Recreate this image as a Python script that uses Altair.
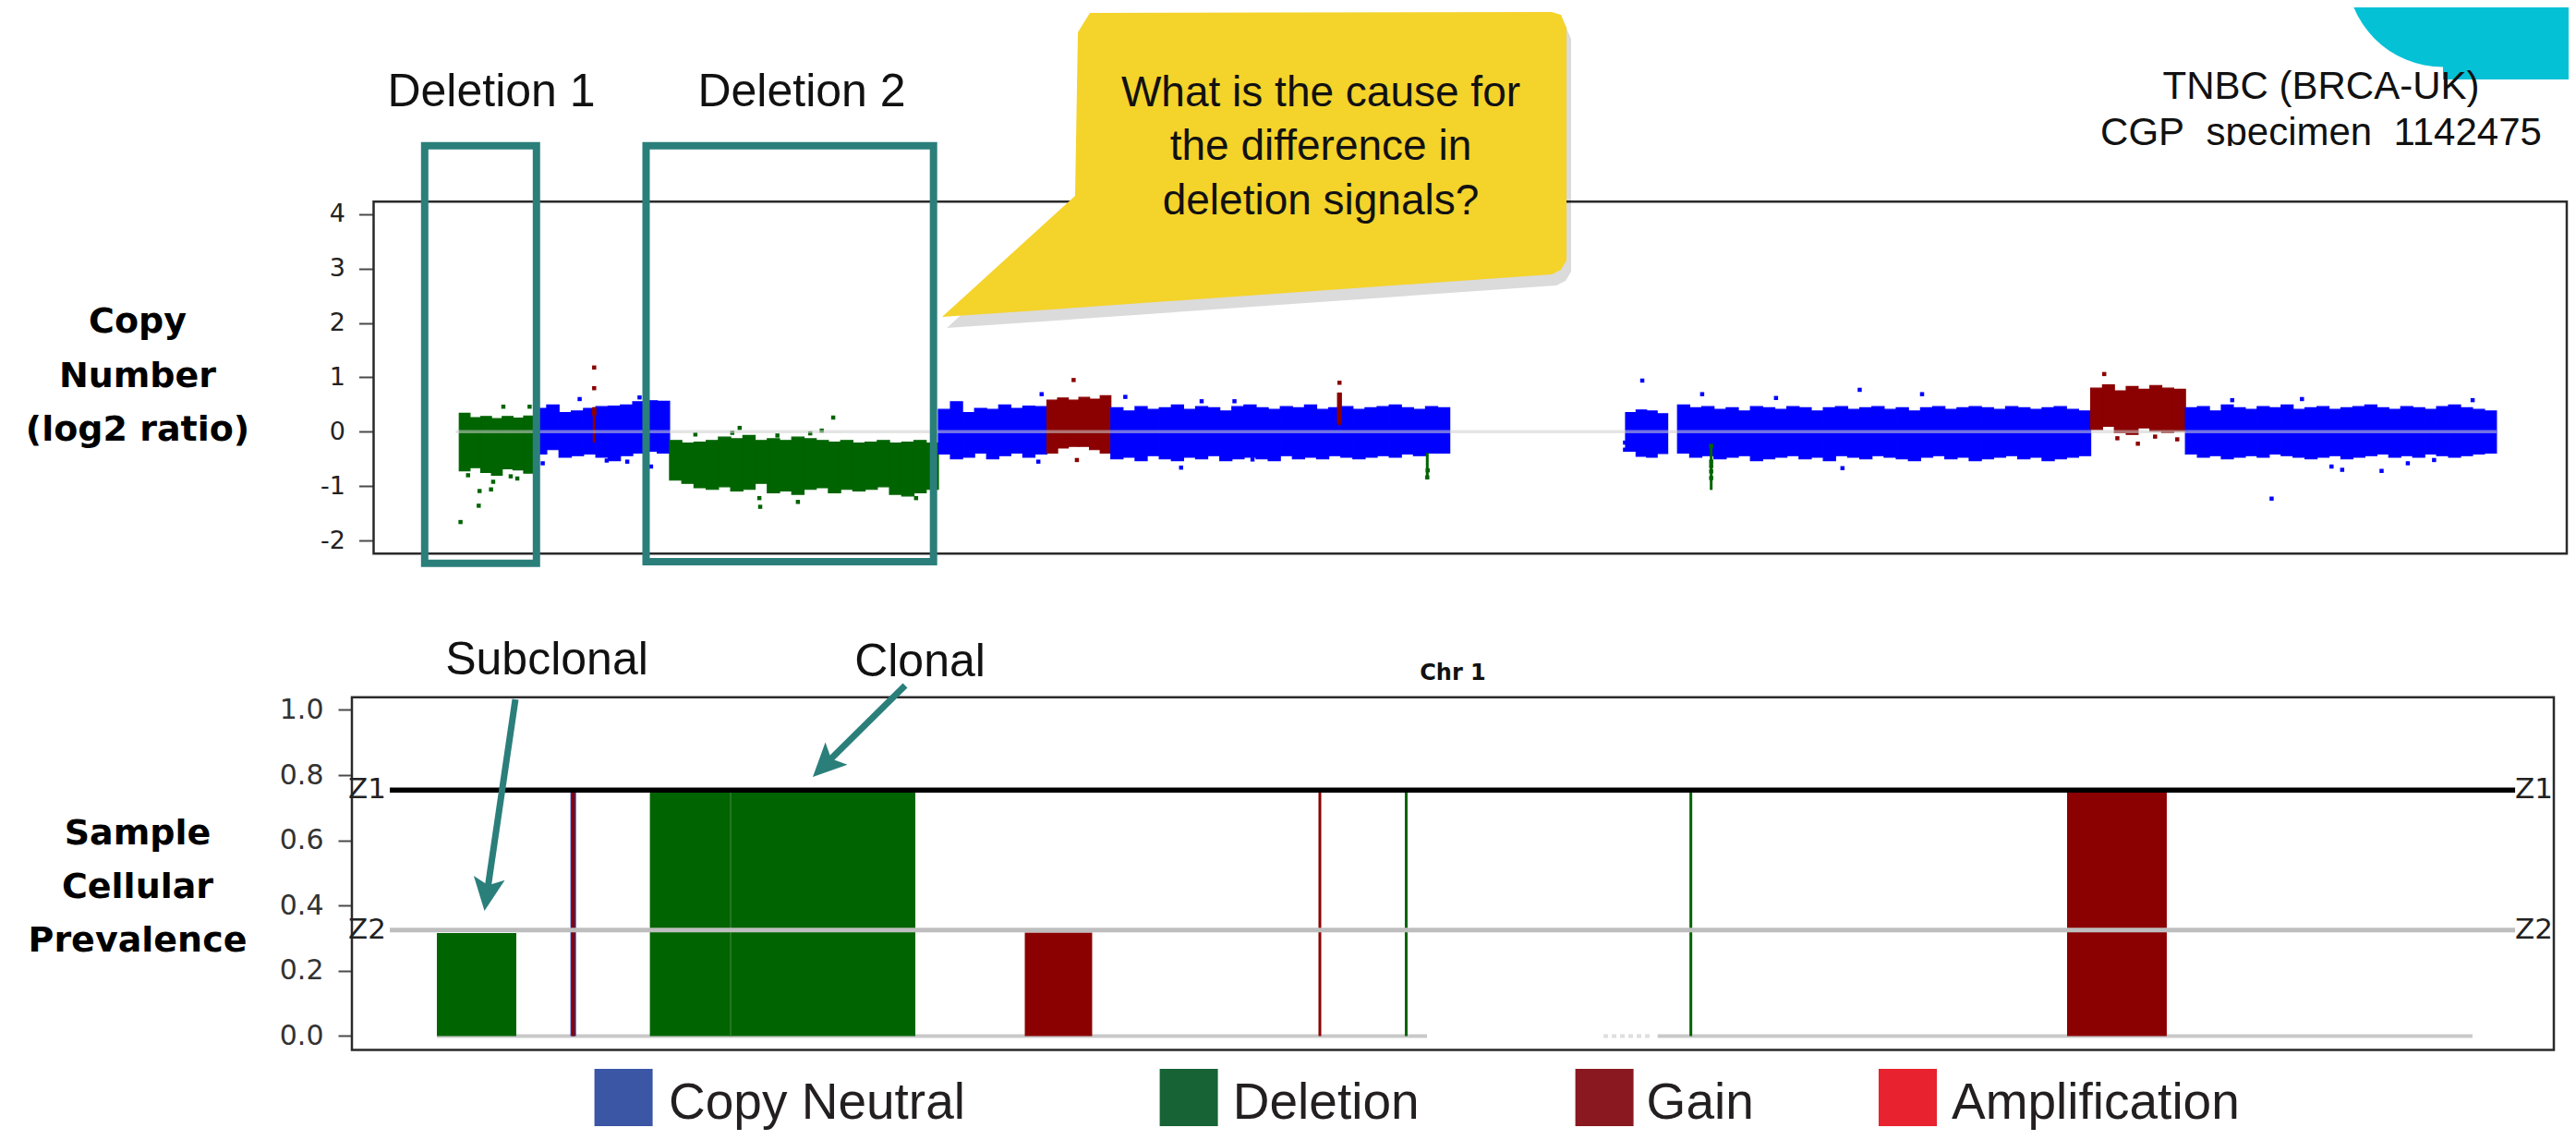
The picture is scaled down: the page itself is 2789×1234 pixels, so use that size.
import altair as alt
import pandas as pd

# ---------------- data ----------------
STATES = ["Copy Neutral", "Deletion", "Gain", "Amplification"]
POINT_COLORS = ["#0000ff", "#006400", "#8b0000", "#ee2222"]
LEGEND_COLORS = ["#3a56a5", "#176335", "#8a1820", "#e8222e"]

# Top panel: copy-number segments on chr1 (Mb); envelope of the probe cloud (log2 ratio)
SEG_START = [0.93, 10.09, 26.56, 59.32, 72.55, 80.34, 143.07, 149.4, 199.75, 211.3]
SEG_END = [10.09, 26.56, 59.32, 72.55, 80.34, 121.64, 148.2, 199.75, 211.3, 249.2]
SEG_STATE = ["Deletion", "Copy Neutral", "Deletion", "Copy Neutral", "Gain",
             "Copy Neutral", "Copy Neutral", "Copy Neutral", "Gain", "Copy Neutral"]
SEG_TOP = [
    [0.34, 0.26, 0.28, 0.24, 0.28, 0.25, 0.29],
    [0.43, 0.49, 0.35, 0.38, 0.43, 0.46, 0.47, 0.49, 0.55, 0.57, 0.56],
    [-0.16, -0.21, -0.19, -0.16, -0.10, -0.13, -0.07, -0.16, -0.13, -0.16, -0.10,
     -0.13, -0.16, -0.19, -0.16, -0.21, -0.19, -0.16, -0.21, -0.19, -0.16, -0.21],
    [0.41, 0.55, 0.35, 0.43, 0.41, 0.49, 0.43, 0.47, 0.46],
    [0.58, 0.62, 0.58, 0.63, 0.60, 0.66],
    [0.44, 0.38, 0.46, 0.41, 0.44, 0.49, 0.41, 0.46, 0.44, 0.38, 0.46, 0.49, 0.44, 0.41,
     0.46, 0.44, 0.49, 0.41, 0.44, 0.46, 0.41, 0.44, 0.46, 0.49, 0.44, 0.41, 0.46, 0.44],
    [0.35, 0.40, 0.38, 0.33],
    [0.49, 0.44, 0.46, 0.41, 0.44, 0.38, 0.46, 0.44, 0.41, 0.46, 0.44, 0.38, 0.44, 0.46,
     0.41, 0.44, 0.46, 0.41, 0.44, 0.38, 0.44, 0.46, 0.41, 0.44, 0.46, 0.44, 0.41, 0.46,
     0.44, 0.41, 0.44, 0.46, 0.41, 0.38],
    [0.80, 0.86, 0.75, 0.83, 0.78, 0.85, 0.80, 0.78],
    [0.44, 0.46, 0.38, 0.49, 0.44, 0.41, 0.46, 0.44, 0.49, 0.41, 0.44, 0.46, 0.41,
     0.44, 0.46, 0.49, 0.44, 0.41, 0.46, 0.44, 0.41, 0.46, 0.49, 0.44, 0.41, 0.38],
]
SEG_BOTTOM = [
    [-0.72, -0.66, -0.75, -0.80, -0.68, -0.70, -0.76],
    [-0.41, -0.33, -0.47, -0.44, -0.41, -0.47, -0.53, -0.44, -0.39, -0.36, -0.39],
    [-0.89, -0.95, -1.03, -1.06, -1.01, -1.09, -1.06, -0.95, -1.12, -1.09, -1.15,
     -1.06, -1.03, -1.12, -1.06, -1.09, -1.06, -1.01, -1.15, -1.18, -1.12, -1.06],
    [-0.41, -0.50, -0.47, -0.39, -0.50, -0.44, -0.39, -0.47, -0.41],
    [-0.39, -0.30, -0.27, -0.27, -0.33, -0.39],
    [-0.50, -0.47, -0.53, -0.44, -0.50, -0.53, -0.47, -0.50, -0.44, -0.53, -0.50, -0.47,
     -0.50, -0.53, -0.44, -0.50, -0.47, -0.50, -0.44, -0.47, -0.50, -0.47, -0.44, -0.47,
     -0.41, -0.44, -0.39, -0.39],
    [-0.36, -0.45, -0.47, -0.40],
    [-0.39, -0.47, -0.44, -0.50, -0.47, -0.44, -0.53, -0.50, -0.47, -0.44, -0.50, -0.47,
     -0.53, -0.44, -0.47, -0.50, -0.44, -0.47, -0.50, -0.53, -0.47, -0.44, -0.50, -0.47,
     -0.53, -0.50, -0.47, -0.44, -0.50, -0.47, -0.53, -0.50, -0.47, -0.44],
    [0.04, 0.10, -0.02, -0.05, 0.07, 0.01, -0.02, 0.01],
    [-0.41, -0.47, -0.44, -0.50, -0.47, -0.44, -0.47, -0.41, -0.44, -0.47, -0.50, -0.47,
     -0.44, -0.50, -0.47, -0.44, -0.41, -0.47, -0.44, -0.47, -0.41, -0.44, -0.47, -0.44,
     -0.41, -0.39],
]

# narrow focal events in the top panel
SPIKE_X = [17.37, 108.2, 118.9, 153.5]
SPIKE_LO = [-0.20, 0.12, -0.84, -1.07]
SPIKE_HI = [0.45, 0.72, -0.39, -0.24]
SPIKE_STATE = ["Gain", "Gain", "Deletion", "Deletion"]
BLOB_X0 = [17.1, 107.9]
BLOB_X1 = [17.65, 108.5]
BLOB_LO = [0.30, 0.15]
BLOB_HI = [0.45, 0.72]
BLOB_STATE = ["Gain", "Gain"]

# isolated probes
OUT_X = [1.08, 3.3, 3.4, 4.8, 5.06, 8.0, 6.3, 9.5, 2.0, 7.2,
         11.1, 24.3, 15.6, 18.9, 21.4, 22.9,
         17.37, 17.37,
         29.7, 34.2, 35.1, 39.7, 43.7, 45.1, 46.5, 37.5, 37.6, 42.2, 56.6,
         71.5, 71.9, 75.8, 76.2, 88.9, 82.1, 91.4, 95.4, 97.6, 108.2,
         118.9, 118.95,
         145.1, 152.4, 161.4, 169.5, 171.6, 179.2, 143.0, 143.0,
         153.5, 153.5, 153.5, 153.5, 153.5,
         201.4, 205.5, 210.3, 203.0, 207.6,
         221.8, 229.1, 230.4, 235.2, 238.4, 241.6, 246.3, 217.0, 225.5]
OUT_Y = [-1.66, -1.36, -1.09, -1.06, -0.92, -0.86, 0.46, 0.46, -0.80, -0.82,
         -0.58, -0.64, 0.60, -0.53, -0.55, 0.63,
         1.18, 0.80,
         -0.05, -0.02, 0.07, -0.07, -0.03, 0.02, 0.26, -1.22, -1.38, -1.29, -1.22,
         -0.55, 0.69, 0.95, -0.52, -0.66, 0.64, 0.56, 0.56, -0.51, 0.90,
         -0.84, -0.71,
         0.94, 0.69, 0.62, -0.67, 0.77, 0.69, -0.20, -0.33,
         -0.26, -0.55, -0.63, -0.73, -0.85,
         1.06, -0.22, -0.14, -0.12, -0.09,
         -1.23, -0.64, -0.70, -0.72, -0.58, -0.52, 0.58, 0.58, 0.60]
OUT_STATE = (["Deletion"] * 10 + ["Copy Neutral"] * 6 + ["Gain"] * 2 + ["Deletion"] * 11
             + ["Copy Neutral", "Copy Neutral", "Gain", "Gain", "Copy Neutral", "Copy Neutral",
                "Copy Neutral", "Copy Neutral", "Copy Neutral", "Gain"]
             + ["Deletion"] * 2 + ["Copy Neutral"] * 8 + ["Deletion"] * 5 + ["Gain"] * 5
             + ["Copy Neutral"] * 9)
ZERO_LINE = [0.5, 249.2]

# Bottom panel: sample cellular prevalence per event
BAR_X0 = [0.73, 26.69, 36.53, 72.38, 199.4]
BAR_X1 = [10.41, 36.53, 59.04, 80.59, 211.55]
BAR_PREV = [0.316, 0.75, 0.75, 0.317, 0.75]
BAR_STATE = ["Deletion", "Deletion", "Deletion", "Gain", "Gain"]
LINE_X = [17.35, 108.34, 118.86, 153.55]
LINE_PREV = [0.75, 0.75, 0.75, 0.75]
LINE_STATE = ["Gain", "Gain", "Deletion", "Deletion"]
BASE_X0 = [0.73, 149.5]
BASE_X1 = [121.4, 248.8]
SPARSE_X0 = [142.9]
SPARSE_X1 = [148.6]
Z_NAMES = ["Z1", "Z2"]
Z_VALUES = [0.754, 0.325]
Z_EXTENT = [-5.0, 254.0]

TOP_TICKS = [-2, -1, 0, 1, 2, 3, 4]
BOT_TICKS = [0.0, 0.2, 0.4, 0.6, 0.8, 1.0]

# ---------------- layout (pixels) ----------------
# The view origin sits just outside the canvas (negative padding), so the
# view-cell outline falls outside the visible area.
OX, OY = 5, 5              # page position of the view origin
PAD = -3                   # canvas starts at page (8, 8)
W, H = 2773 - 2 * PAD, 1218 - 2 * PAD
TEAL = "#2b7f7b"
FONT = "Liberation Sans"


def px(v):
    return v - OX


def py(v):
    return v - OY


TOP_XD, TOP_XR = [-9.511, 257.77], [px(404.5), px(2779)]
TOP_YD, TOP_YR = [-2.241, 4.228], [py(599.3), py(218.3)]
BOT_XD, BOT_XR = [-9.624, 258.72], [px(381), px(2765)]
BOT_YD, BOT_YR = [-0.043, 1.039], [py(1136.6), py(754.7)]


def sc(domain, rng):
    return alt.Scale(domain=domain, range=rng, zero=False, nice=False)


def tx(f, **kw):
    return alt.X(f, type="quantitative", scale=sc(TOP_XD, TOP_XR), **({"axis": None} | kw))


def ty(f, **kw):
    return alt.Y(f, type="quantitative", scale=sc(TOP_YD, TOP_YR), **({"axis": None} | kw))


def bx(f, **kw):
    return alt.X(f, type="quantitative", scale=sc(BOT_XD, BOT_XR), **({"axis": None} | kw))


def by(f, **kw):
    return alt.Y(f, type="quantitative", scale=sc(BOT_YD, BOT_YR), **({"axis": None} | kw))


STATE_SCALE = alt.Scale(domain=STATES, range=POINT_COLORS)


def col(f="state"):
    return alt.Color(f + ":N", scale=STATE_SCALE, legend=None)


def stk(f="state"):
    return alt.Stroke(f + ":N", scale=STATE_SCALE, legend=None)


ONE = pd.DataFrame({"k": [0]})

# ---------------- build tables ----------------
band_rows = []
for s, e, st, tops, bots in zip(SEG_START, SEG_END, SEG_STATE, SEG_TOP, SEG_BOTTOM):
    n = min(len(tops), len(bots))
    step = (e - s) / n
    for i in range(n):
        band_rows.append({"x0": s + i * step, "x1": s + (i + 1) * step,
                          "top": tops[i], "bot": bots[i], "state": st})
bands = pd.DataFrame(band_rows)
spikes = pd.DataFrame({"x": SPIKE_X, "lo": SPIKE_LO, "hi": SPIKE_HI, "state": SPIKE_STATE})
blobs = pd.DataFrame({"x0": BLOB_X0, "x1": BLOB_X1, "lo": BLOB_LO, "hi": BLOB_HI, "state": BLOB_STATE})
outs = pd.DataFrame({"x": OUT_X, "y": OUT_Y, "state": OUT_STATE})
zero = pd.DataFrame({"x0": [ZERO_LINE[0]], "x1": [ZERO_LINE[1]], "y": [0.0]})
top_frame = pd.DataFrame({"x0": [TOP_XD[0]], "x1": [TOP_XD[1]], "y0": [TOP_YD[0]], "y1": [TOP_YD[1]]})
bot_frame = pd.DataFrame({"x0": [BOT_XD[0]], "x1": [BOT_XD[1]], "y0": [BOT_YD[0]], "y1": [BOT_YD[1]]})
bars = pd.DataFrame({"x0": BAR_X0, "x1": BAR_X1, "prev": BAR_PREV, "state": BAR_STATE, "y0": 0.0})
lines = pd.DataFrame({"x": LINE_X, "prev": LINE_PREV, "state": LINE_STATE, "y0": 0.0})
base = pd.DataFrame({"x0": BASE_X0, "x1": BASE_X1, "y": 0.0})
sparse = pd.DataFrame({"x0": SPARSE_X0, "x1": SPARSE_X1, "y": 0.0})
zl = pd.DataFrame({"name": Z_NAMES, "z": Z_VALUES, "x0": Z_EXTENT[0], "x1": Z_EXTENT[1]})

layers = []

# ---------------- top panel ----------------
TOP_AXIS = alt.Axis(orient="left", values=TOP_TICKS, tickSize=16, tickWidth=2, tickColor="#4a4a4a",
                    domain=False, grid=False, labelFont="DejaVu Sans", labelFontSize=27,
                    labelColor="#222222", labelPadding=15, offset=-TOP_XR[0], title=None,
                    labelExpr="datum.value", labelOverlap=False, labelFlush=False)
layers.append(alt.Chart(top_frame).mark_rect(fillOpacity=0, stroke="#2a2a2a", strokeWidth=2.5).encode(
    x=tx("x0"), x2="x1", y=ty("y0", axis=TOP_AXIS), y2="y1"))
layers.append(alt.Chart(bands).mark_rect(strokeWidth=1.2).encode(
    x=tx("x0"), x2="x1", y=ty("top"), y2="bot", color=col(), stroke=stk()))
layers.append(alt.Chart(blobs).mark_rect().encode(
    x=tx("x0"), x2="x1", y=ty("hi"), y2="lo", color=col()))
layers.append(alt.Chart(spikes).mark_rule(strokeWidth=3).encode(
    x=tx("x"), y=ty("lo"), y2="hi", color=col()))
layers.append(alt.Chart(outs).mark_square(size=20, opacity=1).encode(
    x=tx("x"), y=ty("y"), color=col()))
layers.append(alt.Chart(zero).mark_rule(strokeWidth=3.5, color="#cfcfcf", opacity=0.55).encode(
    x=tx("x0"), x2="x1", y=ty("y")))

# ---------------- bottom panel ----------------
BOT_AXIS = alt.Axis(orient="left", values=BOT_TICKS, tickSize=15, tickWidth=2, tickColor="#4a4a4a",
                    domain=False, grid=False, labelFont="DejaVu Sans", labelFontSize=30,
                    labelColor="#333333", labelPadding=16, offset=-BOT_XR[0], title=None,
                    labelExpr="format(datum.value, '.1f')", labelOverlap=False, labelFlush=False)
layers.append(alt.Chart(bot_frame).mark_rect(fillOpacity=0, stroke="#2a2a2a", strokeWidth=2.5).encode(
    x=bx("x0"), x2="x1", y=by("y0", axis=BOT_AXIS), y2="y1"))
layers.append(alt.Chart(base).mark_rule(strokeWidth=4, color="#c9c9c9").encode(
    x=bx("x0"), x2="x1", y=by("y")))
layers.append(alt.Chart(sparse).mark_rule(strokeWidth=4, color="#c9c9c9", strokeDash=[5, 4],
                                          opacity=0.6).encode(
    x=bx("x0"), x2="x1", y=by("y")))
layers.append(alt.Chart(bars).mark_rect().encode(
    x=bx("x0"), x2="x1", y=by("prev"), y2="y0", color=col()))
layers.append(alt.Chart(bars.iloc[[2]]).mark_rule(strokeWidth=1.5, color="#2f7f2f").encode(
    x=bx("x0"), y=by("prev"), y2="y0"))
layers.append(alt.Chart(lines.iloc[[0]]).mark_rule(strokeWidth=6, color="#2b2f8f").encode(
    x=bx("x"), y=by("prev"), y2="y0"))
layers.append(alt.Chart(lines).mark_rule(strokeWidth=3).encode(
    x=bx("x"), y=by("prev"), y2="y0", color=col()))
layers.append(alt.Chart(zl.iloc[[1]]).mark_rule(strokeWidth=5, color="#bebebe").encode(
    x=bx("x0"), x2="x1", y=by("z")))
layers.append(alt.Chart(zl.iloc[[0]]).mark_rule(strokeWidth=5.5, color="#000000").encode(
    x=bx("x0"), x2="x1", y=by("z")))
layers.append(alt.Chart(zl).mark_text(align="right", baseline="middle", font="DejaVu Sans",
                                      fontSize=31, color="#222222").encode(
    x=alt.value(px(418)), y=by("z"), text="name:N"))
layers.append(alt.Chart(zl).mark_text(align="left", baseline="middle", font="DejaVu Sans",
                                      fontSize=31, color="#222222").encode(
    x=alt.value(px(2723)), y=by("z"), text="name:N"))
layers.append(alt.Chart(ONE).mark_text(text="Chr 1", align="center", baseline="alphabetic",
                                       font="DejaVu Sans", fontWeight="bold", fontSize=24,
                                       color="#111111").encode(
    x=alt.value(px(1573)), y=alt.value(py(735.5))))

# ---------------- annotations ----------------
def box(x0, x1, y0, y1):
    return alt.Chart(ONE).mark_rect(fillOpacity=0, stroke=TEAL, strokeWidth=8).encode(
        x=alt.value(px(x0)), x2=alt.value(px(x1)), y=alt.value(py(y0)), y2=alt.value(py(y1)))


layers.append(box(459.8, 580.8, 157.7, 609.7))
layers.append(box(699.5, 1010.7, 157.7, 608.0))


def text(t, x, y, size, align="center", weight="normal", font=FONT, color="#111111", lh=None):
    kw = dict(text=t, align=align, baseline="alphabetic", font=font, fontSize=size,
              fontWeight=weight, color=color)
    if lh is not None:
        kw["lineHeight"] = lh
    return alt.Chart(ONE).mark_text(**kw).encode(x=alt.value(px(x)), y=alt.value(py(y)))


layers.append(text("Deletion 1", 532, 114.7, 50))
layers.append(text("Deletion 2", 868, 114.7, 50))

# callout bubble (page pixel outline)
CALL_X = [1020, 1153, 1164, 1167, 1180, 1680, 1690, 1696]
CALL_TOP = [343, 222, 212, 35, 14, 13, 16, 30]
CALL_BOT = [343, 334, 333, 333, 332, 297, 292, 282]
shadow = pd.DataFrame({"x": [px(v + 5) for v in CALL_X], "y": [py(v + 12) for v in CALL_TOP],
                       "y2": [py(v + 12) for v in CALL_BOT]})
bubble = pd.DataFrame({"x": [px(v) for v in CALL_X], "y": [py(v) for v in CALL_TOP],
                       "y2": [py(v) for v in CALL_BOT]})
layers.append(alt.Chart(shadow).mark_area(color="#000000", opacity=0.14, orient="vertical").encode(
    x=alt.X("x:Q", scale=None, axis=None), y=alt.Y("y:Q", scale=None, axis=None), y2="y2"))
layers.append(alt.Chart(bubble).mark_area(color="#f4d32b", opacity=1, orient="vertical").encode(
    x=alt.X("x:Q", scale=None, axis=None), y=alt.Y("y:Q", scale=None, axis=None), y2="y2"))
layers.append(text(["What is the cause for", "the difference in", "deletion signals?"],
                   1430, 115, 46, lh=58.3))

# cyan corner shape
layers.append(alt.Chart(ONE).mark_point(shape="circle", filled=True, size=43744, color="#04c1d6",
                                        opacity=1).encode(
    x=alt.value(px(2645)), y=alt.value(py(-32))))
layers.append(alt.Chart(ONE).mark_rect(color="#04c1d6").encode(
    x=alt.value(px(2645)), x2=alt.value(W), y=alt.value(0), y2=alt.value(py(86))))

layers.append(text("TNBC (BRCA-UK)", 2513, 106.7, 42))
layers.append(text("CGP\u00a0 specimen\u00a0 1142475", 2513, 156.7, 42))
layers.append(alt.Chart(ONE).mark_rect(color="white").encode(
    x=alt.value(px(2250)), x2=alt.value(px(2776)), y=alt.value(py(158)), y2=alt.value(py(205))))

# panel labels
layers.append(text(["Copy", "Number", "(log2 ratio)"], 149, 360, 38, weight="bold",
                   font="DejaVu Sans", color="#000000", lh=58.5))
layers.append(text(["Sample", "Cellular", "Prevalence"], 149, 913.8, 38, weight="bold",
                   font="DejaVu Sans", color="#000000", lh=58))

# arrows
layers.append(text("Subclonal", 592, 729.5, 50))
layers.append(text("Clonal", 996, 731.6, 50))
ARROW = "M0,-1L0.85,0.8L0,0.4L-0.85,0.8Z"
for (x0, y0, x1, y1, hx, hy, ang) in [(558, 757, 528, 962, 527.4, 966.2, 188.3),
                                       (980, 742, 897, 824, 894.2, 826.9, 225.3)]:
    layers.append(alt.Chart(ONE).mark_rule(color=TEAL, strokeWidth=7).encode(
        x=alt.value(px(x0)), y=alt.value(py(y0)), x2=alt.value(px(x1)), y2=alt.value(py(y1))))
    layers.append(alt.Chart(ONE).mark_point(shape=ARROW, filled=True, size=1600, color=TEAL,
                                            opacity=1, angle=ang).encode(
        x=alt.value(px(hx)), y=alt.value(py(hy))))

# legend
LEG_SQ_X = [643.6, 1255.6, 1705.6, 2034]
LEG_TX_X = [724, 1334.8, 1782.6, 2113]
for lab, c, sx, tx_ in zip(STATES, LEGEND_COLORS, LEG_SQ_X, LEG_TX_X):
    layers.append(alt.Chart(ONE).mark_rect(color=c).encode(
        x=alt.value(px(sx)), x2=alt.value(px(sx + 63)), y=alt.value(py(1157)), y2=alt.value(py(1219))))
    layers.append(text(lab, tx_, 1210.5, 55, align="left", color="#231f20"))

chart = alt.layer(*layers).resolve_scale(
    x="independent", y="independent", color="independent", stroke="independent"
).properties(
    width=W, height=H, autosize=alt.AutoSizeParams(type="none"),
    padding={"left": PAD, "top": PAD, "right": PAD, "bottom": PAD}, background="white"
).configure(font=FONT, view=alt.ViewConfig(stroke="transparent", strokeWidth=0))

chart.save("out.html", embed_options={"renderer": "svg", "actions": False})
